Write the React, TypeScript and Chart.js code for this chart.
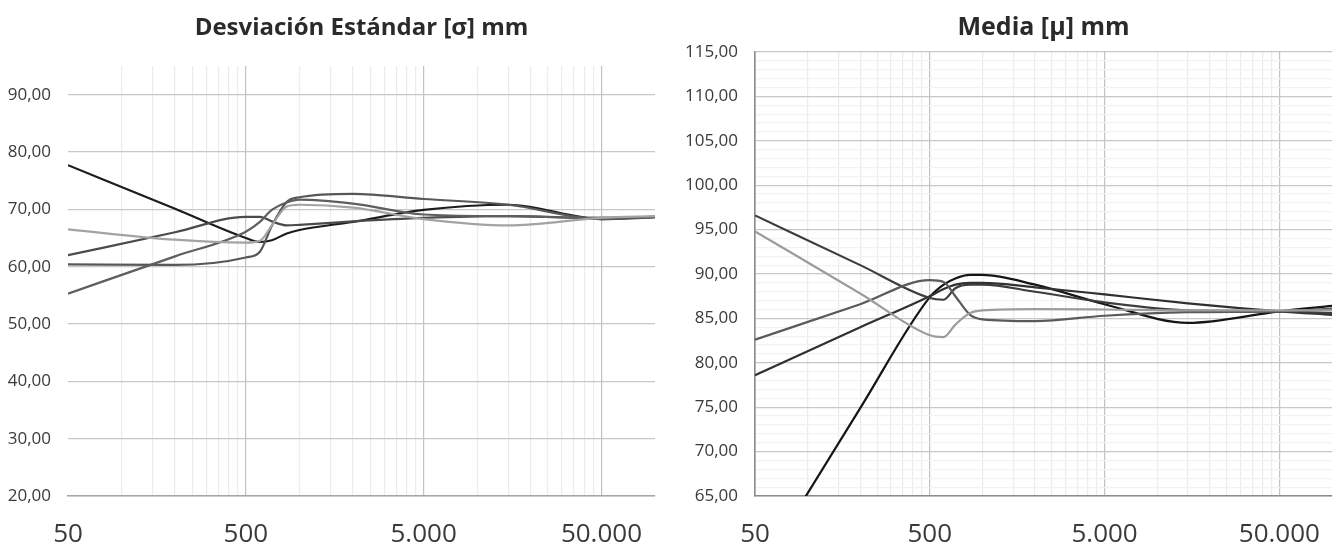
import React, { useEffect, useRef } from 'react';
import { Chart, registerables } from 'chart.js';

Chart.register(...registerables);

// ---------- shared x axis ----------
const xValues = [50, 200, 500, 600, 700, 850, 1000, 2000, 5000, 15000, 50000, 100000];
const xTickValues = [50, 500, 5000, 50000];
const xTickLabels = ['50', '500', '5.000', '50.000'];
const xMin = 50;
const xMax = 100000;

// ---------- left chart: Desviación Estándar ----------
const sigmaTitle = 'Desviación Estándar [σ] mm';
const sigmaYTicks = [20, 30, 40, 50, 60, 70, 80, 90];
const sigmaYMin = 20;
const sigmaYMax = 95;
const sigmaA = [77.7, 70.1, 65.0, 64.3, 64.6, 65.8, 66.4, 67.8, 69.9, 70.8, 68.3, 68.7];
const sigmaB = [62.0, 66.0, 68.7, 68.7, 67.9, 67.2, 67.3, 67.9, 68.5, 68.8, 68.5, 68.7];
const sigmaC = [55.3, 61.8, 66.1, 67.8, 69.9, 71.2, 71.7, 71.0, 69.1, 68.8, 68.5, 68.7];
const sigmaD = [66.5, 64.7, 64.2, 64.5, 67.2, 70.5, 70.8, 70.3, 68.3, 67.2, 68.5, 68.8];
const sigmaE = [60.4, 60.3, 61.6, 62.6, 67.1, 71.3, 72.1, 72.7, 71.8, 70.8, 68.3, 68.6];

// ---------- right chart: Media ----------
const muTitle = 'Media [μ] mm';
const muYTicks = [65, 70, 75, 80, 85, 90, 95, 100, 105, 110, 115];
const muYMin = 65;
const muYMax = 115;
const muP = [96.6, 91.0, 87.3, 87.1, 88.4, 88.8, 88.8, 88.0, 86.8, 85.9, 85.8, 85.6];
const muQ = [94.8, 87.8, 83.1, 82.9, 84.3, 85.6, 85.9, 86.05, 86.0, 85.9, 85.9, 85.9];
const muR = [82.6, 86.6, 89.3, 89.1, 87.5, 85.4, 84.9, 84.7, 85.3, 85.7, 85.8, 86.1];
const muS = [78.6, 84.0, 87.5, 88.3, 88.8, 89.0, 89.0, 88.5, 87.7, 86.7, 85.8, 85.4];
const muT = [55.7, 74.9, 87.4, 88.8, 89.5, 89.9, 89.9, 88.8, 86.6, 84.5, 85.8, 86.4];

const FONT = '"Open Sans", "Noto Sans", sans-serif';

const xGridValues: number[] = [];
xTickValues.forEach((m) => {
  for (let k = 1; k <= 9; k++) {
    const v = m * k;
    if (v <= xMax && !xGridValues.includes(v)) xGridValues.push(v);
  }
});

const fmtY = (v: number) => v.toFixed(2).replace('.', ',');

const titlePlugin = {
  id: 'centerTitle',
  afterDraw(chart: any, _args: any, opts: any) {
    const { ctx, chartArea } = chart;
    ctx.save();
    ctx.font = `bold ${opts.size}px ${FONT}`;
    ctx.fillStyle = '#2a2a2a';
    ctx.textAlign = 'center';
    ctx.textBaseline = 'alphabetic';
    ctx.fillText(opts.text, (chartArea.left + chartArea.right) / 2, opts.y);
    ctx.restore();
  },
};

function makeDataset(values: number[], color: string) {
  return {
    data: xValues.map((x, i) => ({ x, y: values[i] })),
    borderColor: color,
    backgroundColor: color,
    borderWidth: 2.2,
    pointRadius: 0,
    pointHoverRadius: 0,
    fill: false,
    cubicInterpolationMode: 'monotone' as const,
  };
}

interface PanelProps {
  left: number;
  width: number;
  title: string;
  titleSize: number;
  datasets: any[];
  yMin: number;
  yMax: number;
  yLabelTicks: number[];
  yMinorStep: number | null;
  yAxisWidth: number;
  padTop: number;
  padRight: number;
  showYAxisLine: boolean;
  showFirstXGrid: boolean;
  axisLineColor: string;
}

function Panel(p: PanelProps) {
  const ref = useRef<HTMLCanvasElement | null>(null);
  useEffect(() => {
    if (!ref.current) return;
    const yGrid: number[] = [];
    if (p.yMinorStep) {
      for (let v = p.yMin; v <= p.yMax + 1e-9; v += p.yMinorStep) yGrid.push(Math.round(v * 100) / 100);
    } else {
      p.yLabelTicks.forEach((v) => yGrid.push(v));
    }
    const chart = new Chart(ref.current, {
      type: 'line',
      data: { datasets: p.datasets },
      plugins: [titlePlugin],
      options: {
        animation: false,
        responsive: false,
        maintainAspectRatio: false,
        events: [],
        layout: { padding: { top: p.padTop, right: p.padRight, left: 0, bottom: 0 } },
        plugins: {
          legend: { display: false },
          tooltip: { enabled: false },
          title: { display: false },
          centerTitle: { text: p.title, size: p.titleSize, y: 35 },
        } as any,
        scales: {
          x: {
            type: 'logarithmic',
            min: xMin,
            max: xMax,
            afterBuildTicks: (s: any) => {
              s.ticks = xGridValues.map((v) => ({ value: v }));
            },
            afterFit: (s: any) => {
              s.height = 59;
            },
            ticks: {
              autoSkip: false,
              maxRotation: 0,
              minRotation: 0,
              padding: 3,
              color: '#3a3a3a',
              font: { family: FONT, size: 26, lineHeight: 2.77 },
              callback: (v: any) => {
                const i = xTickValues.indexOf(Number(v));
                return i >= 0 ? xTickLabels[i] : '';
              },
            },
            grid: {
              drawTicks: false,
              lineWidth: 1.2,
              color: (ctx: any) => {
                const v = ctx.tick ? ctx.tick.value : 0;
                if (v === xMax) return 'rgba(0,0,0,0)';
                if (v === xMin && !p.showFirstXGrid) return 'rgba(0,0,0,0)';
                if (xTickValues.includes(v)) return '#c2c2c2';
                return '#ececec';
              },
            },
            border: { display: true, color: p.axisLineColor, width: 1.6 },
          },
          y: {
            type: 'linear',
            min: p.yMin,
            max: p.yMax,
            afterBuildTicks: (s: any) => {
              s.ticks = yGrid.map((v) => ({ value: v }));
            },
            afterFit: (s: any) => {
              s.width = p.yAxisWidth;
            },
            ticks: {
              autoSkip: false,
              padding: 17,
              color: '#3a3a3a',
              font: { family: FONT, size: 17 },
              callback: (v: any) => (p.yLabelTicks.includes(Number(v)) ? fmtY(Number(v)) : ''),
            },
            grid: {
              drawTicks: false,
              lineWidth: 1.2,
              color: (ctx: any) => {
                const v = ctx.tick ? ctx.tick.value : 0;
                if (p.yLabelTicks.includes(v)) return '#c8c8c8';
                return '#f2f2f2';
              },
            },
            border: { display: p.showYAxisLine, color: p.axisLineColor, width: 1.6 },
          },
        },
      } as any,
    });
    return () => chart.destroy();
  }, []);
  return (
    <canvas
      ref={ref}
      width={p.width}
      height={555}
      style={{ position: 'absolute', left: p.left, top: 0, width: p.width, height: 555 }}
    />
  );
}

export default function App() {
  const sigmaSets = [
    makeDataset(sigmaD, '#a3a3a3'),
    makeDataset(sigmaC, '#5e5e5e'),
    makeDataset(sigmaE, '#575757'),
    makeDataset(sigmaB, '#4b4b4b'),
    makeDataset(sigmaA, '#1c1c1c'),
  ];
  const muSets = [
    makeDataset(muQ, '#9c9c9c'),
    makeDataset(muR, '#5a5a5a'),
    makeDataset(muP, '#3d3d3d'),
    makeDataset(muS, '#303030'),
    makeDataset(muT, '#151515'),
  ];
  return (
    <div style={{ position: 'absolute', left: 0, top: 0, width: 1337, height: 555, background: '#ffffff', overflow: 'hidden' }}>
      <Panel
        left={0}
        width={668}
        title={sigmaTitle}
        titleSize={24}
        datasets={sigmaSets}
        yMin={sigmaYMin}
        yMax={sigmaYMax}
        yLabelTicks={sigmaYTicks}
        yMinorStep={null}
        yAxisWidth={68}
        padTop={66}
        padRight={13}
        showYAxisLine={false}
        showFirstXGrid={false}
        axisLineColor="#a6a6a6"
      />
      <Panel
        left={668}
        width={669}
        title={muTitle}
        titleSize={25}
        datasets={muSets}
        yMin={muYMin}
        yMax={muYMax}
        yLabelTicks={muYTicks}
        yMinorStep={1}
        yAxisWidth={87}
        padTop={52}
        padRight={5}
        showYAxisLine={true}
        showFirstXGrid={true}
        axisLineColor="#8c8c8c"
      />
    </div>
  );
}
